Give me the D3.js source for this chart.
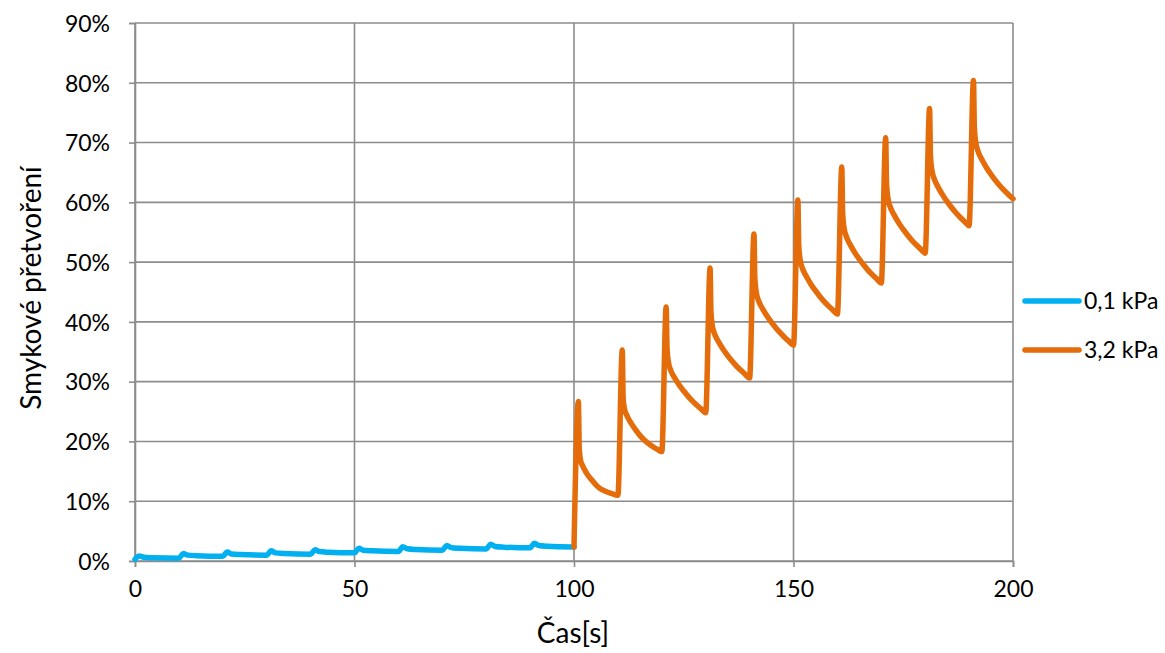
<!DOCTYPE html>
<html>
<head>
<meta charset="utf-8">
<script src="https://cdn.jsdelivr.net/npm/d3@7/dist/d3.min.js"></script>
<style>
  html, body { margin: 0; padding: 0; background: #fff; }
  svg { display: block; }
  text { font-family: Lato, "Open Sans", sans-serif; fill: #000; }
</style>
</head>
<body>
<svg id="chart" width="1165" height="653"></svg>
<script>
// ---- data (values in percent) ----
const seriesNames = ["0,1 kPa", "3,2 kPa"];
const seriesColors = ["#00B0F0", "#E46C0A"];

const blueTime = [0, 1, 2, 4,
  10, 11, 12, 14,
  20, 21, 22, 24,
  30, 31, 32, 34,
  40, 41, 42, 44,
  50, 51, 52, 54,
  60, 61, 62, 64,
  70, 71, 72, 74,
  80, 81, 82, 84,
  90, 91, 92, 94,
  100];
const blueValue = [0.30, 0.85, 0.62, 0.55,
  0.47, 1.25, 0.98, 0.89,
  0.80, 1.50, 1.18, 1.08,
  0.97, 1.70, 1.36, 1.25,
  1.14, 1.90, 1.58, 1.47,
  1.36, 2.15, 1.81, 1.70,
  1.58, 2.40, 2.04, 1.92,
  1.80, 2.60, 2.24, 2.12,
  2.00, 2.80, 2.44, 2.32,
  2.20, 2.95, 2.59, 2.47,
  2.35];

const orangeTime = [100,
  101, 101.2, 101.5, 102, 102.5, 103, 104, 105, 106, 107, 108, 109, 110,
  111, 111.2, 111.5, 112, 112.5, 113, 114, 115, 116, 117, 118, 119, 120,
  121, 121.2, 121.5, 122, 122.5, 123, 124, 125, 126, 127, 128, 129, 130,
  131, 131.2, 131.5, 132, 132.5, 133, 134, 135, 136, 137, 138, 139, 140,
  141, 141.2, 141.5, 142, 142.5, 143, 144, 145, 146, 147, 148, 149, 150,
  151, 151.2, 151.5, 152, 152.5, 153, 154, 155, 156, 157, 158, 159, 160,
  161, 161.2, 161.5, 162, 162.5, 163, 164, 165, 166, 167, 168, 169, 170,
  171, 171.2, 171.5, 172, 172.5, 173, 174, 175, 176, 177, 178, 179, 180,
  181, 181.2, 181.5, 182, 182.5, 183, 184, 185, 186, 187, 188, 189, 190,
  191, 191.2, 191.5, 192, 192.5, 193, 194, 195, 196, 197, 198, 199, 200];
const orangeValue = [2.35,
  26.7, 18.85, 16.81, 15.87, 15.16, 14.53, 13.59, 12.73, 12.10, 11.71, 11.42, 11.19, 11.0,
  35.3, 27.14, 25.44, 24.42, 23.66, 23.06, 21.96, 21.02, 20.26, 19.63, 19.12, 18.67, 18.3,
  42.5, 35.42, 33.30, 31.97, 31.17, 30.55, 29.40, 28.43, 27.54, 26.75, 26.04, 25.40, 24.8,
  49.0, 41.64, 39.43, 38.05, 37.22, 36.58, 35.38, 34.37, 33.45, 32.62, 31.89, 31.23, 30.6,
  54.7, 47.26, 45.03, 43.63, 42.80, 42.15, 40.94, 39.91, 38.98, 38.15, 37.40, 36.73, 36.1,
  60.4, 52.76, 50.47, 49.04, 48.18, 47.51, 46.27, 45.22, 44.26, 43.40, 42.64, 41.95, 41.3,
  65.9, 58.14, 55.81, 54.36, 53.48, 52.81, 51.54, 50.48, 49.51, 48.63, 47.86, 47.16, 46.5,
  70.8, 63.08, 60.76, 59.32, 58.45, 57.77, 56.52, 55.46, 54.49, 53.62, 52.85, 52.16, 51.5,
  75.7, 67.86, 65.51, 64.04, 63.16, 62.47, 61.20, 60.12, 59.14, 58.26, 57.47, 56.77, 56.1,
  80.4, 72.48, 70.10, 68.62, 67.73, 67.04, 65.75, 64.66, 63.67, 62.78, 61.99, 61.27, 60.6];

const xTicks = [0, 50, 100, 150, 200];
const yTicks = [0, 10, 20, 30, 40, 50, 60, 70, 80, 90];
const xTitle = "Čas[s]";
const yTitle = "Smykové přetvoření";

// ---- layout ----
const plot = { left: 135, right: 1013, top: 23, bottom: 561 };
const gridColor = "#8c8c8c";
const fontStack = "Lato, 'Open Sans', sans-serif";

const svg = d3.select("#chart");
const x = d3.scaleLinear().domain([0, 200]).range([plot.left, plot.right]);
const y = d3.scaleLinear().domain([0, 90]).range([plot.bottom, plot.top]);

// gridlines
const grid = svg.append("g");
grid.selectAll("line.h").data(yTicks).enter().append("line")
  .attr("x1", plot.left).attr("x2", plot.right)
  .attr("y1", d => y(d)).attr("y2", d => y(d))
  .attr("stroke", gridColor).attr("stroke-width", 1.6);
grid.selectAll("line.v").data(xTicks).enter().append("line")
  .attr("y1", plot.top).attr("y2", plot.bottom)
  .attr("x1", d => x(d)).attr("x2", d => x(d))
  .attr("stroke", gridColor).attr("stroke-width", 1.6);

// axes
const yAxis = d3.axisLeft(y).tickValues(yTicks).tickSize(6).tickPadding(19)
  .tickFormat(d => d + "%");
const gy = svg.append("g").attr("transform", `translate(${plot.left},0)`).call(yAxis);
const xAxis = d3.axisBottom(x).tickValues(xTicks).tickSize(6).tickPadding(14);
const gx = svg.append("g").attr("transform", `translate(0,${plot.bottom})`).call(xAxis);
[gx, gy].forEach(g => {
  g.select(".domain").attr("stroke", gridColor).attr("stroke-width", 1.6);
  g.selectAll(".tick line").attr("stroke", gridColor).attr("stroke-width", 1.6);
  g.selectAll(".tick text").style("font-family", fontStack)
    .style("font-size", "23px").attr("fill", "#000");
});
gy.selectAll(".tick text").attr("dy", "0.36em");
gx.selectAll(".tick text").attr("dy", "0.71em");

// titles
svg.append("text").attr("x", 573).attr("y", 643)
  .attr("text-anchor", "middle").style("font-size", "28px").text(xTitle);
svg.append("text").attr("transform", "translate(41,288) rotate(-90)")
  .attr("text-anchor", "middle").style("font-size", "28px").text(yTitle);

// lines
const line = d3.line().x(d => x(d[0])).y(d => y(d[1])).curve(d3.curveMonotoneX);
const blueData = blueTime.map((t, i) => [t, blueValue[i]]);
const orangeData = orangeTime.map((t, i) => [t, orangeValue[i]]);
[blueData, orangeData].forEach((data, i) => {
  svg.append("path").datum(data).attr("d", line)
    .attr("fill", "none").attr("stroke", seriesColors[i])
    .attr("stroke-width", 5.5).attr("stroke-linejoin", "round").attr("stroke-linecap", "round");
});

// legend
const legend = svg.append("g");
seriesNames.forEach((name, i) => {
  const ly = 301 + i * 49;
  legend.append("line").attr("x1", 1025).attr("x2", 1079).attr("y1", ly).attr("y2", ly)
    .attr("stroke", seriesColors[i]).attr("stroke-width", 5.5).attr("stroke-linecap", "round");
  legend.append("text").attr("x", 1084).attr("y", ly).attr("dy", "0.36em")
    .style("font-size", "23px").text(name);
});
</script>
</body>
</html>
